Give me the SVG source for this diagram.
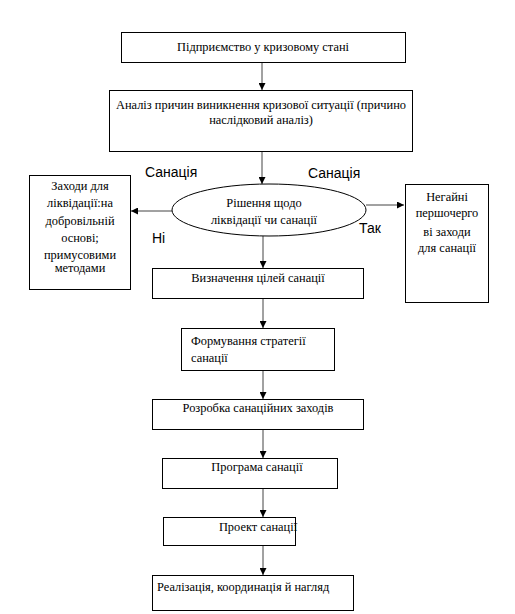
<svg xmlns="http://www.w3.org/2000/svg" width="515" height="614" viewBox="0 0 515 614">
<defs>
<marker id="ah" viewBox="0 0 10 10" refX="10" refY="5" markerWidth="7" markerHeight="7" markerUnits="userSpaceOnUse" orient="auto">
<path d="M0,0 L10,5 L0,10 z" fill="#000"/>
</marker>
<style>
.box{fill:#fff;stroke:#000;stroke-width:1}
.t{font-family:"Liberation Serif","Times New Roman",serif;font-size:12.4px;fill:#000}
.c{text-anchor:middle}
.lbl{font-family:"Liberation Sans",Arial,sans-serif;font-size:14px;fill:#000}
.con{stroke:#444;stroke-width:1;fill:none;marker-end:url(#ah)}
</style>
</defs>
<rect width="515" height="614" fill="#fff"/>
<g id="connectors">
<line class="con" x1="262" y1="62" x2="262" y2="90"/>
<line class="con" x1="262" y1="151" x2="262" y2="184"/>
<line class="con" x1="172" y1="211" x2="131" y2="211"/>
<line class="con" x1="366" y1="205" x2="404" y2="205"/>
<line class="con" x1="263" y1="236" x2="263" y2="268"/>
<line class="con" x1="263" y1="298" x2="263" y2="328"/>
<line class="con" x1="263" y1="370" x2="263" y2="399"/>
<line class="con" x1="263" y1="429" x2="263" y2="458"/>
<line class="con" x1="263" y1="488" x2="263" y2="517"/>
<line class="con" x1="263" y1="545" x2="263" y2="575"/>
</g>
<g id="n1"><rect class="box" x="121.5" y="32.5" width="284" height="30"/><text class="t c" x="263" y="51">Підприємство у кризовому стані</text></g>
<g id="n2"><rect class="box" x="109.5" y="90.5" width="303" height="61"/><text class="t c" x="261" y="109">Аналіз причин виникнення кризової ситуації (причино</text><text class="t c" x="261" y="124">наслідковий аналіз)</text></g>
<g id="n3"><ellipse cx="269" cy="210" rx="97" ry="26" fill="#fff" stroke="#000"/><text class="t c" x="264" y="207">Рішення щодо</text><text class="t c" x="264" y="224">ліквідації чи санації</text></g>
<g id="n4"><rect class="box" x="29.5" y="175.5" width="101" height="114"/>
<text class="t c" x="80" y="190">Заходи для</text><text class="t c" x="80" y="207">ліквідації:на</text><text class="t c" x="80" y="225">добровільній</text><text class="t c" x="80" y="242">основі;</text><text class="t c" x="80" y="259">примусовими</text><text class="t c" x="80" y="272">методами</text></g>
<g id="n5"><rect class="box" x="405.5" y="184.5" width="83" height="118"/>
<text class="t c" x="447" y="201">Негайні</text><text class="t c" x="447" y="217">першочерго</text><text class="t c" x="447" y="236">ві заходи</text><text class="t c" x="447" y="252">для санації</text></g>
<g id="n6"><rect class="box" x="152.5" y="268.5" width="211" height="30"/><text class="t c" x="258" y="282">Визначення цілей санації</text></g>
<g id="n7"><rect class="box" x="181.5" y="328.5" width="153" height="42"/><text class="t" x="191" y="345">Формування стратегії</text><text class="t" x="191" y="362">санації</text></g>
<g id="n8"><rect class="box" x="152.5" y="399.5" width="211" height="30"/><text class="t c" x="258" y="412">Розробка санаційних заходів</text></g>
<g id="n9"><rect class="box" x="162.5" y="458.5" width="175" height="30"/><text class="t c" x="257" y="471">Програма санації</text></g>
<g id="n10"><rect class="box" x="163.5" y="517.5" width="132" height="28"/><text class="t c" x="258" y="531">Проект санації</text></g>
<g id="n11"><rect class="box" x="152.5" y="575.5" width="201" height="35"/><text class="t" x="157" y="591">Реалізація, координація й нагляд</text></g>
<text class="lbl" x="145" y="177">Санація</text>
<text class="lbl" x="308" y="178">Санація</text>
<text class="lbl" x="152" y="243">Ні</text>
<text class="lbl" x="359" y="233">Так</text>
</svg>
